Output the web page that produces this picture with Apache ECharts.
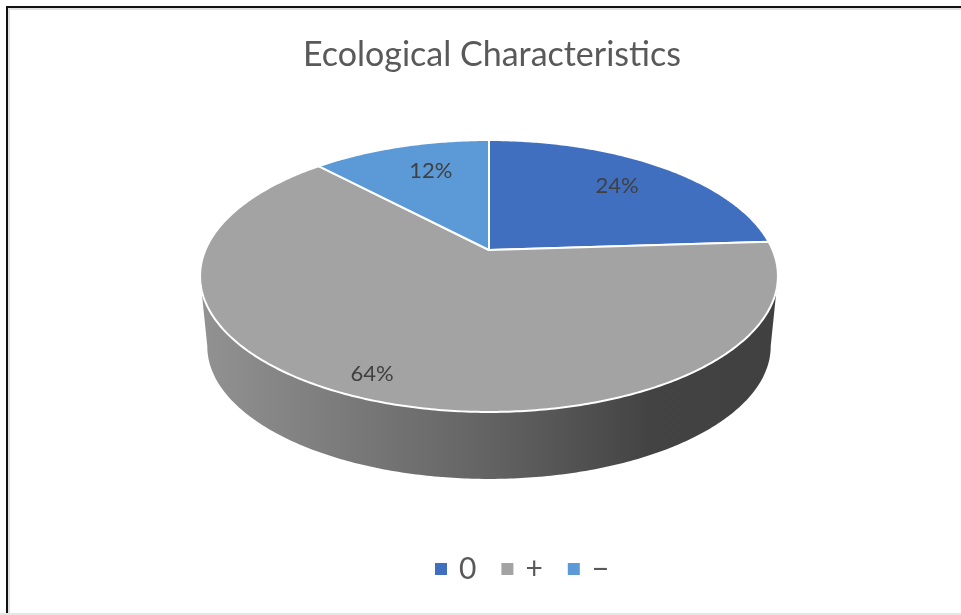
<!DOCTYPE html>
<html>
<head>
<meta charset="utf-8">
<style>html,body{margin:0;padding:0;background:#fff}#chart{width:961px;height:615px}</style>
<script src="https://cdn.jsdelivr.net/npm/echarts@6/dist/echarts.min.js"></script>
</head>
<body>
<div id="chart"></div>
<script>
// Ecological characteristics: share of each class, in percent
const categories = ['0', '+', '\u2212'];
const values = [24, 64, 12];
const sliceColors = ['#416FC0', '#A3A3A3', '#5B9AD6'];

// Projection of the tilted disc onto the page
const view = { cx: 489, cy: 250, rx: 283.6, ry: 131, persp: 0.1912 };
const base = { scale: 0.975, drop: 71 };
const labelRadius = 0.726;
// Labels the layout pushed away from their default spot
const labelShift = { '+': [-30, 23], '\u2212': [9, 0] };

const total = values.reduce((a, b) => a + b, 0);

function project(theta, r, scale, drop) {
  const u = Math.sin(theta) * r, v = -Math.cos(theta) * r;
  const d = 1 - view.persp * v;
  return [view.cx + scale * view.rx * u / d, view.cy + drop + scale * view.ry * v / d];
}
function arcPoints(a0, a1, scale, drop) {
  const n = Math.max(2, Math.ceil(Math.abs(a1 - a0) * 90));
  const pts = [];
  for (let i = 0; i <= n; i++) pts.push(project(a0 + (a1 - a0) * i / n, 1, scale, drop));
  return pts;
}
function sliceRange(index) {
  let before = 0;
  for (let i = 0; i < index; i++) before += values[i];
  return [before / total * 2 * Math.PI, (before + values[index]) / total * 2 * Math.PI];
}
// The rim is visible between the two points where the outline turns back
const turn = Math.acos(-view.persp);
const rimStart = turn, rimEnd = 2 * Math.PI - turn;

function renderSlice(index) {
  return function (params, api) {
    const [a0, a1] = sliceRange(index);
    const name = categories[index];
    const children = [];
    const lo = Math.max(a0, rimStart), hi = Math.min(a1, rimEnd);
    if (hi > lo) {
      const rim = arcPoints(lo, hi, 1, 0).concat(arcPoints(hi, lo, base.scale, base.drop));
      children.push({
        type: 'polygon', shape: { points: rim },
        style: {
          fill: new echarts.graphic.LinearGradient(0, 0, 1, 0, [
            { offset: 0, color: '#929292' },
            { offset: 0.5, color: '#636363' },
            { offset: 0.78, color: '#434343' },
            { offset: 1, color: '#404040' }
          ])
        }
      });
    }
    const top = [[view.cx, view.cy]].concat(arcPoints(a0, a1, 1, 0));
    children.push({
      type: 'polygon', shape: { points: top },
      style: { fill: api.visual('color'), stroke: '#fff', lineWidth: 2, lineJoin: 'round' }
    });
    const mid = (a0 + a1) / 2;
    const at = project(mid, labelRadius, 1, 0);
    const shift = labelShift[name] || [0, 0];
    children.push({
      type: 'text',
      z2: 10,
      style: {
        x: at[0] + shift[0], y: at[1] + shift[1] - 1,
        text: api.value(0) + '%',
        align: 'center', verticalAlign: 'middle',
        fill: '#404040', font: '400 22px Lato'
      }
    });
    return { type: 'group', children };
  };
}

const chart = echarts.init(document.getElementById('chart'), null, { renderer: 'canvas' });
chart.setOption({
  animation: false,
  backgroundColor: '#fff',
  title: {
    text: 'Ecological Characteristics',
    left: 298,
    top: 33,
    textStyle: { fontFamily: 'Lato', fontWeight: 400, fontSize: 34, color: '#595959' }
  },
  legend: {
    data: categories,
    left: 430,
    top: 549,
    icon: 'rect',
    itemWidth: 12,
    itemHeight: 12,
    itemGap: 25,
    textStyle: { fontFamily: 'Lato', fontSize: 30, color: '#595959', padding: [0, 0, 0, 7] }
  },
  graphic: [
    { type: 'rect', shape: { x: 6, y: 6, width: 955, height: 2 }, style: { fill: '#111' } },
    { type: 'rect', shape: { x: 6, y: 6, width: 2, height: 609 }, style: { fill: '#111' } },
    { type: 'rect', shape: { x: 8, y: 8, width: 953, height: 2 }, style: { fill: '#e2e2e2' } },
    { type: 'rect', shape: { x: 8, y: 8, width: 2, height: 607 }, style: { fill: '#e2e2e2' } },
    { type: 'rect', shape: { x: 0, y: 613, width: 961, height: 2 }, style: { fill: '#e6e6e6' } }
  ],
  series: categories.map((name, i) => ({
    type: 'custom',
    name,
    coordinateSystem: 'none',
    z: 2,
    itemStyle: { color: sliceColors[i] },
    renderItem: renderSlice(i),
    data: [[values[i]]]
  }))
});
</script>
</body>
</html>
